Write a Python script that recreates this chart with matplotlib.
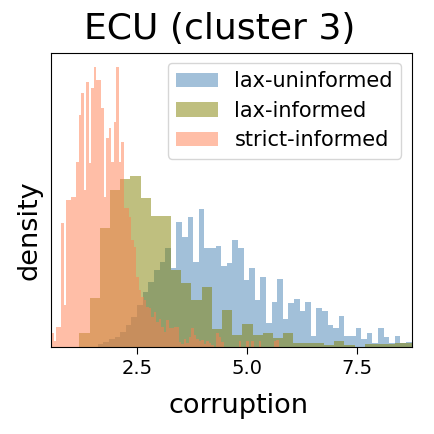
import numpy as np
import matplotlib
matplotlib.use("Agg")
import matplotlib.pyplot as plt

# ---- data (bar heights in arbitrary density units) ----
x_range = (0.565, 8.733)

blue_label = "lax-uninformed"
blue_start, blue_width = 1.6195, 0.12701
blue_heights = [3, 5, 8, 10, 15, 22, 30, 42, 55, 65, 77, 85, 99,
                79, 125, 110, 130, 85, 138, 99, 99, 101, 81, 84, 107, 99,
                67, 79, 47, 70, 24, 45, 68, 28, 44, 48, 36, 45, 11, 39, 36,
                22, 19, 31, 11, 11, 19, 8, 14, 4, 19, 10, 4, 11, 4, 5]

olive_label = "lax-informed"
olive_start, olive_width = 1.1995, 0.2311
olive_heights = [14, 49, 119, 157, 168, 171, 149, 131, 131, 77, 64, 47, 60,
                 18, 37, 12, 23, 12, 14, 9, 14, 4, 4, 4, 2, 6, 2, 0, 3, 3,
                 3, 4, 4]

salmon_label = "strict-informed"
salmon_start, salmon_width = 0.565, 0.05665
salmon_heights = [14, 6, 20, 20, 124, 42, 147, 147, 150, 150, 185, 232, 254,
                  157, 265, 184, 259, 280, 267, 267, 239, 150, 209, 219, 185,
                  225, 280, 185, 205, 139, 139, 130, 107, 100, 70, 57, 50, 47,
                  40, 39, 30, 35, 25, 28, 20, 15, 27, 19, 19, 20, 20, 5, 3, 8,
                  4, 10, 19, 12, 8, 6, 7, 3, 6, 4, 2, 0, 14, 10, 5, 0, 0, 0,
                  0, 0, 0, 6, 0, 0, 6, 0, 6, 0, 0, 6, 0, 0, 0, 0, 0, 6, 7]

title = "ECU (cluster 3)"
xlabel = "corruption"
ylabel = "density"
xticks = [2.5, 5.0, 7.5]
xticklabels = ["2.5", "5.0", "7.5"]


def edges(start, width, n):
    return start + width * np.arange(n + 1)


fig = plt.figure(figsize=(4.35, 4.34), dpi=100)
ax = fig.add_axes([0.118, 0.201, 0.8285, 0.6775])

series = [
    (blue_label, blue_start, blue_width, blue_heights, "steelblue"),
    (olive_label, olive_start, olive_width, olive_heights, "olive"),
    (salmon_label, salmon_start, salmon_width, salmon_heights, "coral"),
]
for label, start, width, heights, color in series:
    e = edges(start, width, len(heights))
    centers = (e[:-1] + e[1:]) / 2
    ax.hist(centers, bins=e, weights=heights, color=color, alpha=0.5,
            label=label)

ax.set_xlim(*x_range)
ax.set_xticks(xticks)
ax.set_xticklabels(xticklabels)
ax.set_yticks([])
ax.tick_params(axis="x", labelsize=14, length=5)
ax.set_title(title, fontsize=26, pad=10, x=0.467)
ax.set_xlabel(xlabel, fontsize=19.5, labelpad=11)
ax.set_ylabel(ylabel, fontsize=19.5, labelpad=6)
ax.xaxis.label.set_x(0.518)
ax.yaxis.label.set_y(0.395)
ax.legend(loc="upper right", fontsize=15, labelspacing=0.45)

fig.savefig("out.png", dpi=100)
